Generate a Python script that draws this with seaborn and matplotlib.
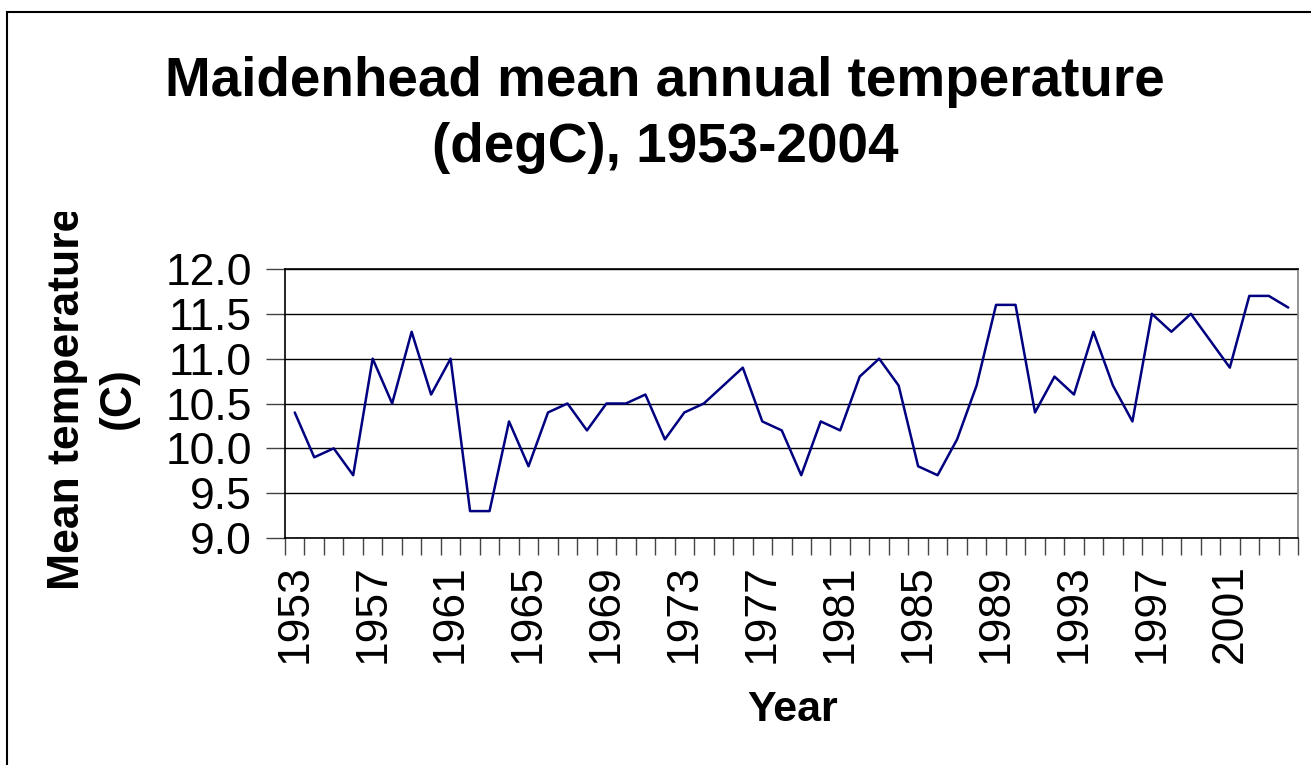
import matplotlib
matplotlib.use("Agg")
import matplotlib.pyplot as plt
import matplotlib.patches as patches
from matplotlib.transforms import Bbox
import seaborn as sns
import pandas as pd

# data
years = list(range(1953, 2005))
temps = [10.4, 9.9, 10.0, 9.7, 11.0, 10.5, 11.3, 10.6, 11.0, 9.3,
         9.3, 10.3, 9.8, 10.4, 10.5, 10.2, 10.5, 10.5, 10.6, 10.1,
         10.4, 10.5, 10.7, 10.9, 10.3, 10.2, 9.7, 10.3, 10.2, 10.8,
         11.0, 10.7, 9.8, 9.7, 10.1, 10.7, 11.6, 11.6, 10.4, 10.8,
         10.6, 11.3, 10.7, 10.3, 11.5, 11.3, 11.5, 11.2, 10.9, 11.7,
         11.7, 11.57]
tick_years = list(range(1953, 2004, 4))
y_ticks = [9.0, 9.5, 10.0, 10.5, 11.0, 11.5, 12.0]

df = pd.DataFrame({"Year": years, "Temp": temps})

sns.set_style("white")
plt.rcParams["font.family"] = ["Liberation Sans", "DejaVu Sans"]
plt.rcParams["text.color"] = "black"
plt.rcParams["xtick.color"] = "black"
plt.rcParams["ytick.color"] = "black"

W, H = 1311, 765
fig = plt.figure(figsize=(W / 100, H / 100), dpi=100)
ax = fig.add_axes([285 / W, 1 - 538 / H, (1298 - 285) / W, (538 - 269) / H])

sns.lineplot(data=df, x="Year", y="Temp", color="#000080", linewidth=1.8, ax=ax)

# axis limits and grid
ax.set_xlim(years[0] - 0.5, years[-1] + 0.5)
ax.set_ylim(9.0, 12.0)
ax.set_yticks(y_ticks)
ax.set_yticklabels([f"{v:.1f}" for v in y_ticks], fontsize=32, color="black")
for v in y_ticks:
    ax.axhline(v, color="black", lw=1.0, zorder=0)

ax.set_xticks(tick_years)
ax.set_xticklabels([str(y) for y in tick_years], rotation=90, fontsize=32, color="black")
ax.set_xticks([y - 0.5 for y in years] + [years[-1] + 0.5], minor=True)
ax.tick_params(axis="x", which="major", bottom=True, length=0, pad=19)
ax.tick_params(axis="x", which="minor", bottom=True, length=12, width=1,
               color="#444444", direction="out")
ax.tick_params(axis="y", left=True, length=14, width=1, color="#444444",
               direction="out", pad=10)

for side in ["left", "bottom", "top"]:
    ax.spines[side].set_color("black")
    ax.spines[side].set_linewidth(1.2)
ax.spines["right"].set_color("#808080")
ax.spines["right"].set_linewidth(1.2)

ax.set_xlabel("")
ax.set_ylabel("")

# titles and labels
fig.text(665 / W, 1 - 115 / H, "Maidenhead mean annual temperature\n(degC), 1953-2004",
         ha="center", va="center", fontsize=39.5, fontweight="bold", linespacing=1.37)
fig.text(793 / W, 1 - 710 / H, "Year", ha="center", va="center",
         fontsize=31, fontweight="bold")
ylab = fig.text(93 / W, 1 - 398 / H, "Mean temperature\n(C)", ha="center", va="center",
                rotation=90, fontsize=32, fontweight="bold", linespacing=1.3,
                multialignment="center")
ylab.set_clip_box(Bbox.from_extents(0, 0, W, H - 212))
ylab.set_clip_on(True)

# chart area border
fig.patches.append(patches.Rectangle((7 / W, -0.1), 1.2, 1 - 12 / H + 0.1,
                                     transform=fig.transFigure, fill=False,
                                     edgecolor="black", lw=1.5))

fig.savefig("out.png", dpi=100)
